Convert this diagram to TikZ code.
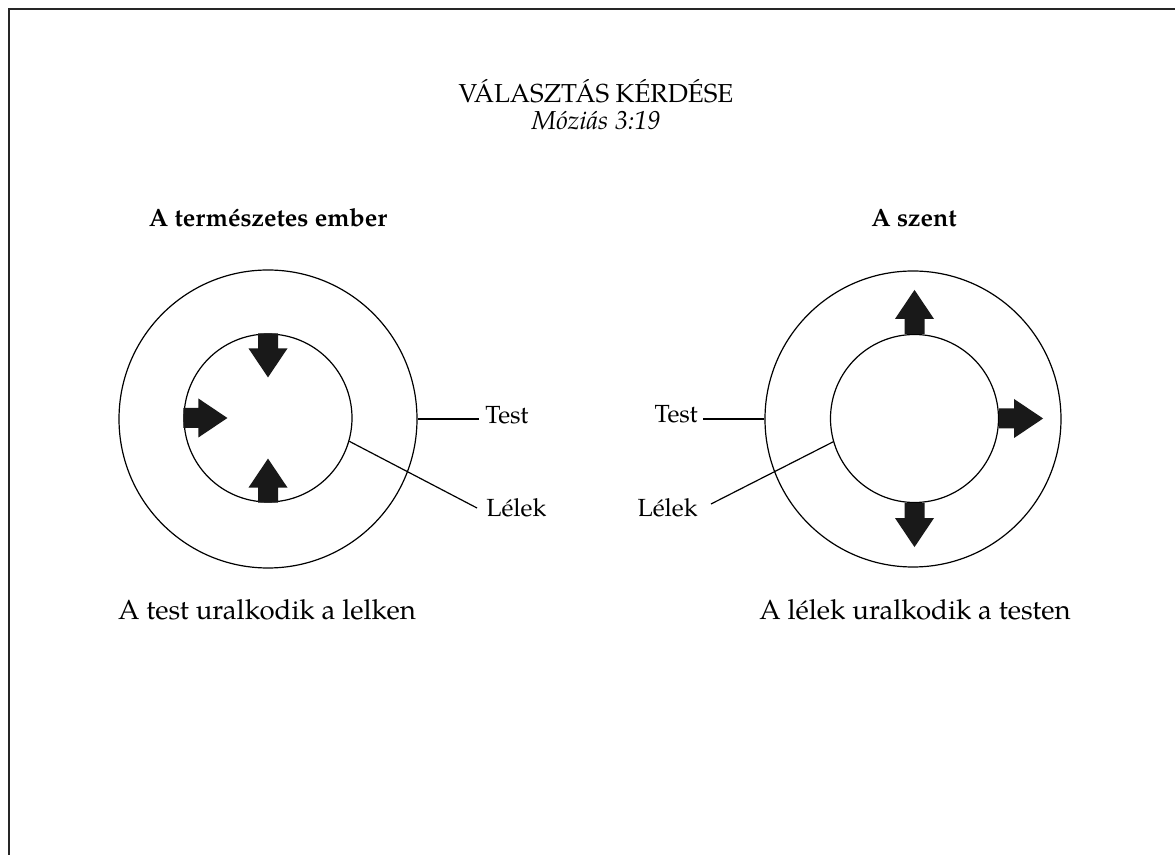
\documentclass[tikz,border=0pt]{standalone}
\usepackage{fontspec}
\setmainfont{TeX Gyre Pagella}
\tikzset{
  txt/.style={font=\fontsize{12.4}{15}\selectfont, inner sep=0pt, anchor=base},
  ttl/.style={font=\fontsize{13}{15}\selectfont, inner sep=0pt, anchor=base},
  captxt/.style={font=\fontsize{13.8}{16}\selectfont, inner sep=0pt, anchor=base},
  hdr/.style={font=\fontsize{12.5}{15}\selectfont\bfseries, inner sep=0pt, anchor=base},
  ring/.style={circle, draw, line width=0.6pt, minimum size=#1, inner sep=0pt},
  conn/.style={line width=0.6pt},
  frameline/.style={line width=1pt, draw=black!85},
  bigarrow/.pic={\fill[black!90] (0pt,-5pt) -- (7.5pt,-5pt) -- (7.5pt,-9.75pt) -- (22pt,0pt) -- (7.5pt,9.75pt) -- (7.5pt,5pt) -- (0pt,5pt) -- cycle;}
}
\begin{document}
\begin{tikzpicture}[x=0.5pt,y=-0.5pt]
\useasboundingbox (0,0) rectangle (1175,855);
\draw[frameline] (1176,9) -- (8.5,9) -- (8.5,856);

% titles
\node[ttl] (title) at (596,103) {VÁLASZTÁS KÉRDÉSE};
\node[ttl] (ref) at (596,130) {\itshape Móziás 3:19};

% left diagram
\node[hdr] (hL) at (268,227) {A természetes ember};
\node[ring=149pt] (LO) at (268,419) {};
\node[ring=84pt] (LI) at (268,418) {};
\pic[rotate=-90] at (LI.north) {bigarrow};
\pic at (LI.west) {bigarrow};
\pic[rotate=90] at (LI.south) {bigarrow};
\node[txt, anchor=base west] (testL) at (485,424) {Test};
\node[txt, anchor=base west] (lelekL) at (486,517) {Lélek};
\coordinate (tL) at (479,419);
\coordinate (lL) at (477,508);
\draw[conn] (LO.east) -- (tL);
\draw[conn] (LI.-16) -- (lL);
\node[captxt] (capL) at (267,620) {A test uralkodik a lelken};

% right diagram
\node[hdr] (hR) at (914,227) {A szent};
\node[ring=148pt] (RO) at (913,419) {};
\node[ring=84pt] (RI) at (914.5,418.5) {};
\pic[rotate=90] at (RI.north) {bigarrow};
\pic at (RI.east) {bigarrow};
\pic[rotate=-90] at (RI.south) {bigarrow};
\node[txt, anchor=base east] (testR) at (698,423) {Test};
\node[txt, anchor=base east] (lelekR) at (698,517) {Lélek};
\coordinate (tR) at (703,419);
\coordinate (lR) at (711,504);
\draw[conn] (RO.west) -- (tR);
\draw[conn] (RI.196) -- (lR);
\node[captxt] (capR) at (915,620) {A lélek uralkodik a testen};
\end{tikzpicture}
\end{document}
